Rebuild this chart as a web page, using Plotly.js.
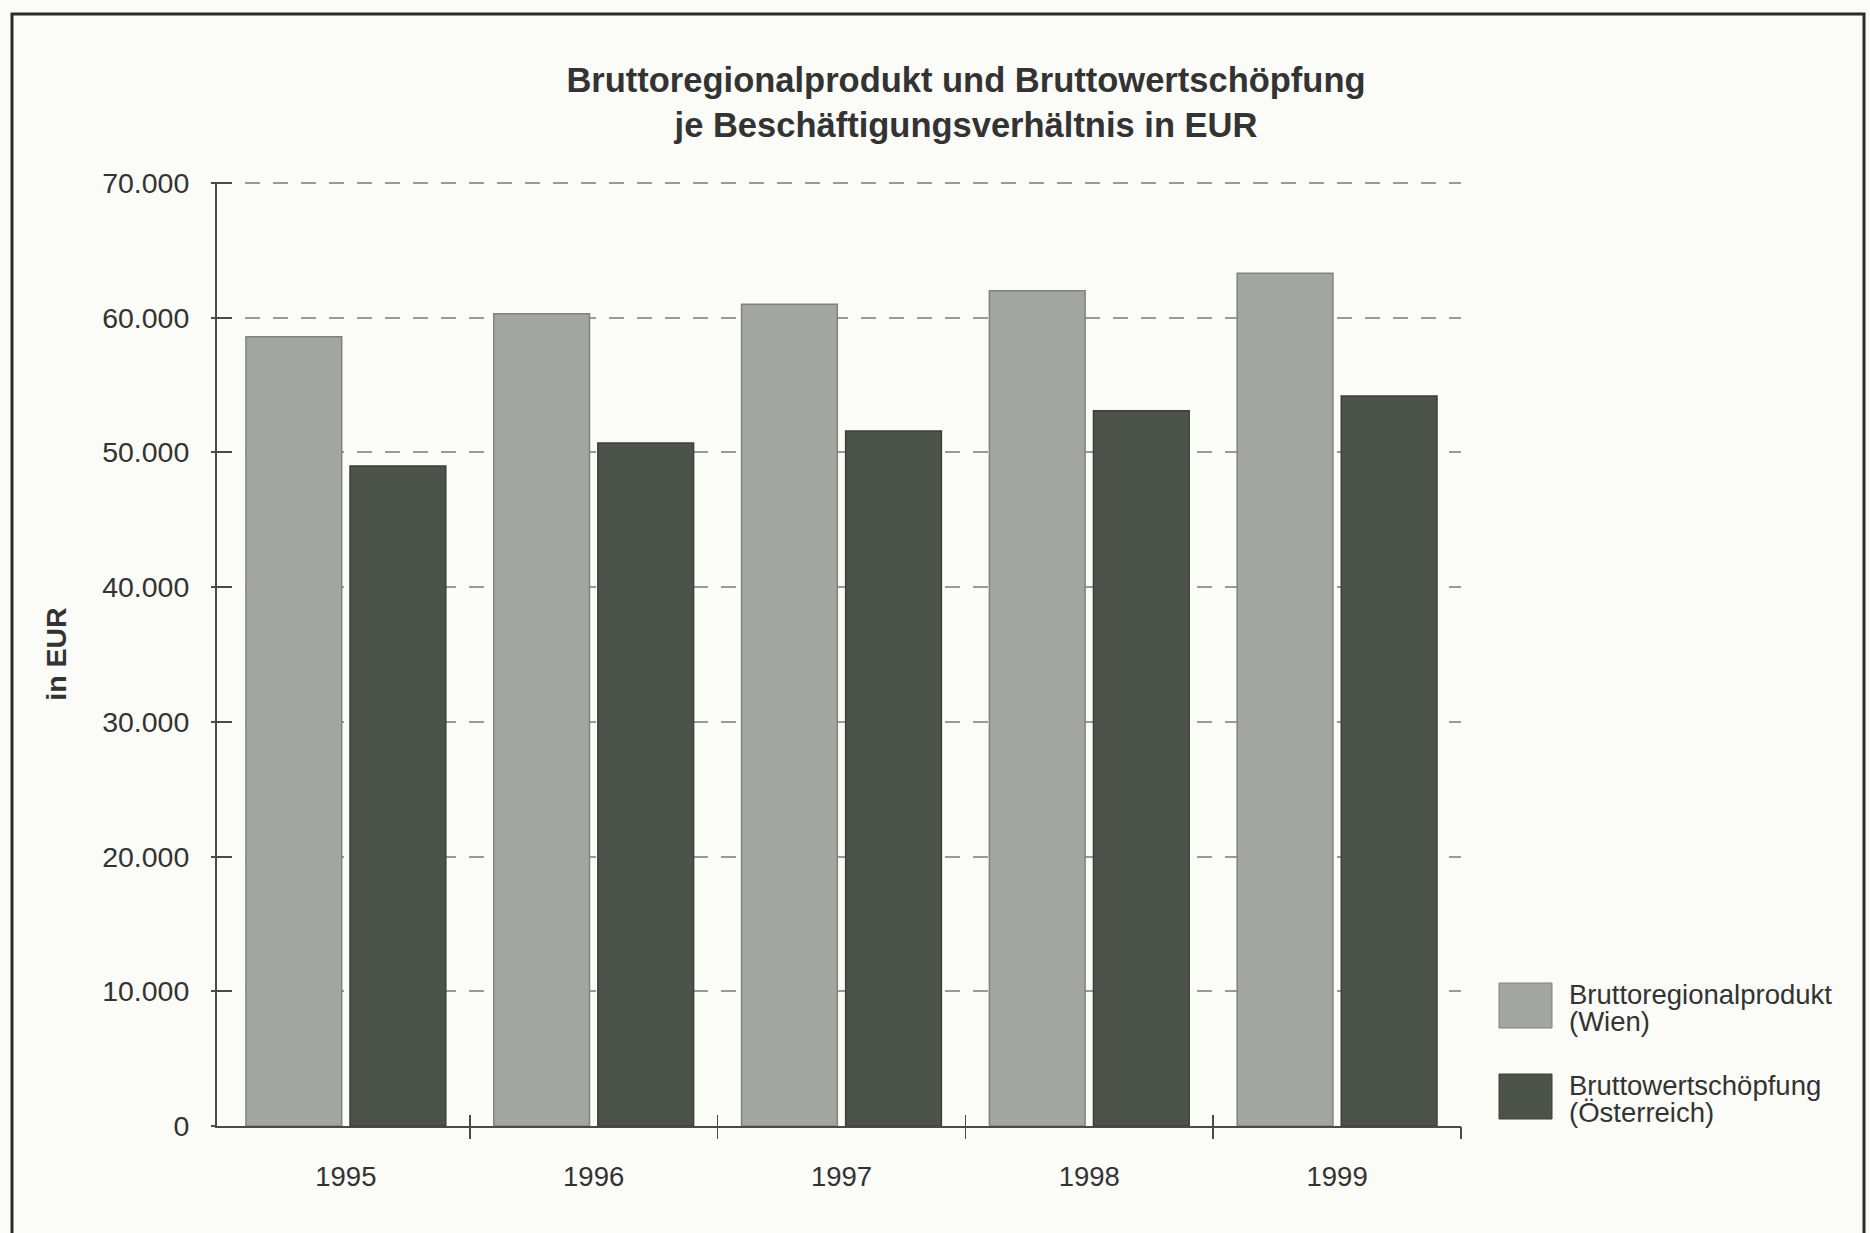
<!DOCTYPE html>
<html>
<head>
<meta charset="utf-8">
<script src="https://cdn.plot.ly/plotly-3.0.1.min.js"></script>
<style>
  html, body { margin: 0; padding: 0; background: #fbfbf7; }
  #chart { width: 1870px; height: 1233px; }
</style>
</head>
<body>
<div id="chart"></div>
<script>
// ---- Data ----
const years = ['1995', '1996', '1997', '1998', '1999'];
const bruttoregionalproduktWien = [58600, 60300, 61000, 62000, 63300];
const bruttowertschoepfungOesterreich = [49000, 50700, 51600, 53100, 54200];
const seriesNames = ['Bruttoregionalprodukt<br>(Wien)', 'Bruttowertschöpfung<br>(Österreich)'];
const legendLines = [['Bruttoregionalprodukt', '(Wien)'], ['Bruttowertschöpfung', '(Österreich)']];
const yTicks = [0, 10000, 20000, 30000, 40000, 50000, 60000, 70000];
const titleText = 'Bruttoregionalprodukt und Bruttowertschöpfung<br>je Beschäftigungsverhältnis in EUR';
const yAxisTitle = 'in EUR';

// ---- Styling ----
const FONT = 'Liberation Sans, Arial, Helvetica, sans-serif';
const TXT = '#333333';
const LIGHT = '#a3a6a0';
const LIGHT_LINE = '#80837d';
const DARK = '#4c534b';
const DARK_LINE = '#3a403a';
const AXIS = '#4a4a4a';
const BG = '#fbfbf7';
const W = 1870, H = 1233;
const M = { l: 217, r: 409, t: 182, b: 107 };
const plotW = W - M.l - M.r, plotH = H - M.t - M.b;
const px = v => (v - M.l) / plotW;          // pixel x -> paper x
const py = v => (H - M.b - v) / plotH;      // pixel y -> paper y
const xRange = [-0.52, 4.5];
const yRange = [0, 70080];
const boundaries = years.map((_, i) => i + 0.5);

const traces = [
  {
    type: 'bar', name: seriesNames[0], x: years, y: bruttoregionalproduktWien,
    marker: { color: LIGHT, line: { color: LIGHT_LINE, width: 1.5 } },
    showlegend: false, hoverinfo: 'x+y'
  },
  {
    type: 'bar', name: seriesNames[1], x: years, y: bruttowertschoepfungOesterreich,
    marker: { color: DARK, line: { color: DARK_LINE, width: 1.5 } },
    showlegend: false, hoverinfo: 'x+y'
  },
  // empty helper traces so that the tick-only overlay axes are drawn
  { type: 'scatter', x: [], y: [], xaxis: 'x2', yaxis: 'y2', showlegend: false, hoverinfo: 'skip' },
  { type: 'scatter', x: [], y: [], xaxis: 'x3', yaxis: 'y2', showlegend: false, hoverinfo: 'skip' }
];

// manual legend (large swatches, tight line spacing like the original)
const swatchTop = [983, 1074], swatchH = 45;
const shapes = [
  // outer frame of the figure
  { type: 'rect', xref: 'paper', yref: 'paper', x0: px(12), x1: px(1864), y0: py(1260), y1: py(14),
    line: { color: '#2b2b2b', width: 3 }, fillcolor: 'rgba(0,0,0,0)', layer: 'below' }
];
const annotations = [];
const swatchColors = [[LIGHT, LIGHT_LINE], [DARK, DARK_LINE]];
legendLines.forEach((lines, k) => {
  const top = swatchTop[k];
  shapes.push({ type: 'rect', xref: 'paper', yref: 'paper', x0: px(1499), x1: px(1552),
    y0: py(top + swatchH), y1: py(top), fillcolor: swatchColors[k][0],
    line: { color: swatchColors[k][1], width: 1 } });
  lines.forEach((t, j) => {
    annotations.push({ text: t, xref: 'paper', yref: 'paper', x: px(1567), y: py(top + 11 + j * 27),
      xanchor: 'left', yanchor: 'middle', showarrow: false,
      font: { family: FONT, size: 27.5, color: TXT } });
  });
});

const layout = {
  width: W, height: H,
  margin: M,
  paper_bgcolor: BG, plot_bgcolor: BG,
  separators: ',.',
  font: { family: FONT, size: 26, color: TXT },
  title: {
    text: titleText, xref: 'container', yref: 'container',
    x: 966 / W, xanchor: 'center', y: 1 - 92 / H, yanchor: 'top',
    font: { family: FONT, size: 34.5, color: TXT, weight: 'bold' }
  },
  barmode: 'group', bargap: 0.16, bargroupgap: 0.08,
  xaxis: {
    type: 'category', range: xRange, showgrid: false, zeroline: false,
    showline: true, linecolor: AXIS, linewidth: 2, ticks: '',
    ticklabelstandoff: 25, tickfont: { family: FONT, size: 27.5, color: TXT }, fixedrange: true
  },
  xaxis2: {
    overlaying: 'x', anchor: 'y', type: 'linear', range: xRange, tickmode: 'array', tickvals: boundaries,
    ticks: 'outside', ticklen: 12, tickwidth: 1.5, tickcolor: AXIS,
    showticklabels: false, showgrid: false, zeroline: false, showline: false
  },
  xaxis3: {
    overlaying: 'x', anchor: 'y', type: 'linear', range: xRange, tickmode: 'array', tickvals: boundaries,
    ticks: 'inside', ticklen: 11, tickwidth: 1.5, tickcolor: AXIS,
    showticklabels: false, showgrid: false, zeroline: false, showline: false
  },
  yaxis: {
    range: yRange, tickmode: 'array', tickvals: yTicks, tickformat: ',d',
    showgrid: true, gridcolor: '#9a9a9a', gridwidth: 2, griddash: '15px,13px',
    zeroline: false, showline: true, linecolor: AXIS, linewidth: 2,
    ticks: 'inside', ticklen: 15, tickwidth: 2, tickcolor: AXIS,
    ticklabelstandoff: 20, tickfont: { family: FONT, size: 28.5, color: TXT },
    title: { text: yAxisTitle, standoff: 27, font: { family: FONT, size: 28.5, color: TXT, weight: 'bold' } },
    fixedrange: true
  },
  yaxis2: {
    overlaying: 'y', anchor: 'x', range: yRange, tickmode: 'array', tickvals: yTicks,
    ticks: 'outside', ticklen: 5, tickwidth: 2, tickcolor: AXIS,
    showticklabels: false, showgrid: false, zeroline: false, showline: false
  },
  shapes: shapes,
  annotations: annotations,
  showlegend: false
};

Plotly.newPlot('chart', traces, layout, { displayModeBar: false, staticPlot: true });
</script>
</body>
</html>
